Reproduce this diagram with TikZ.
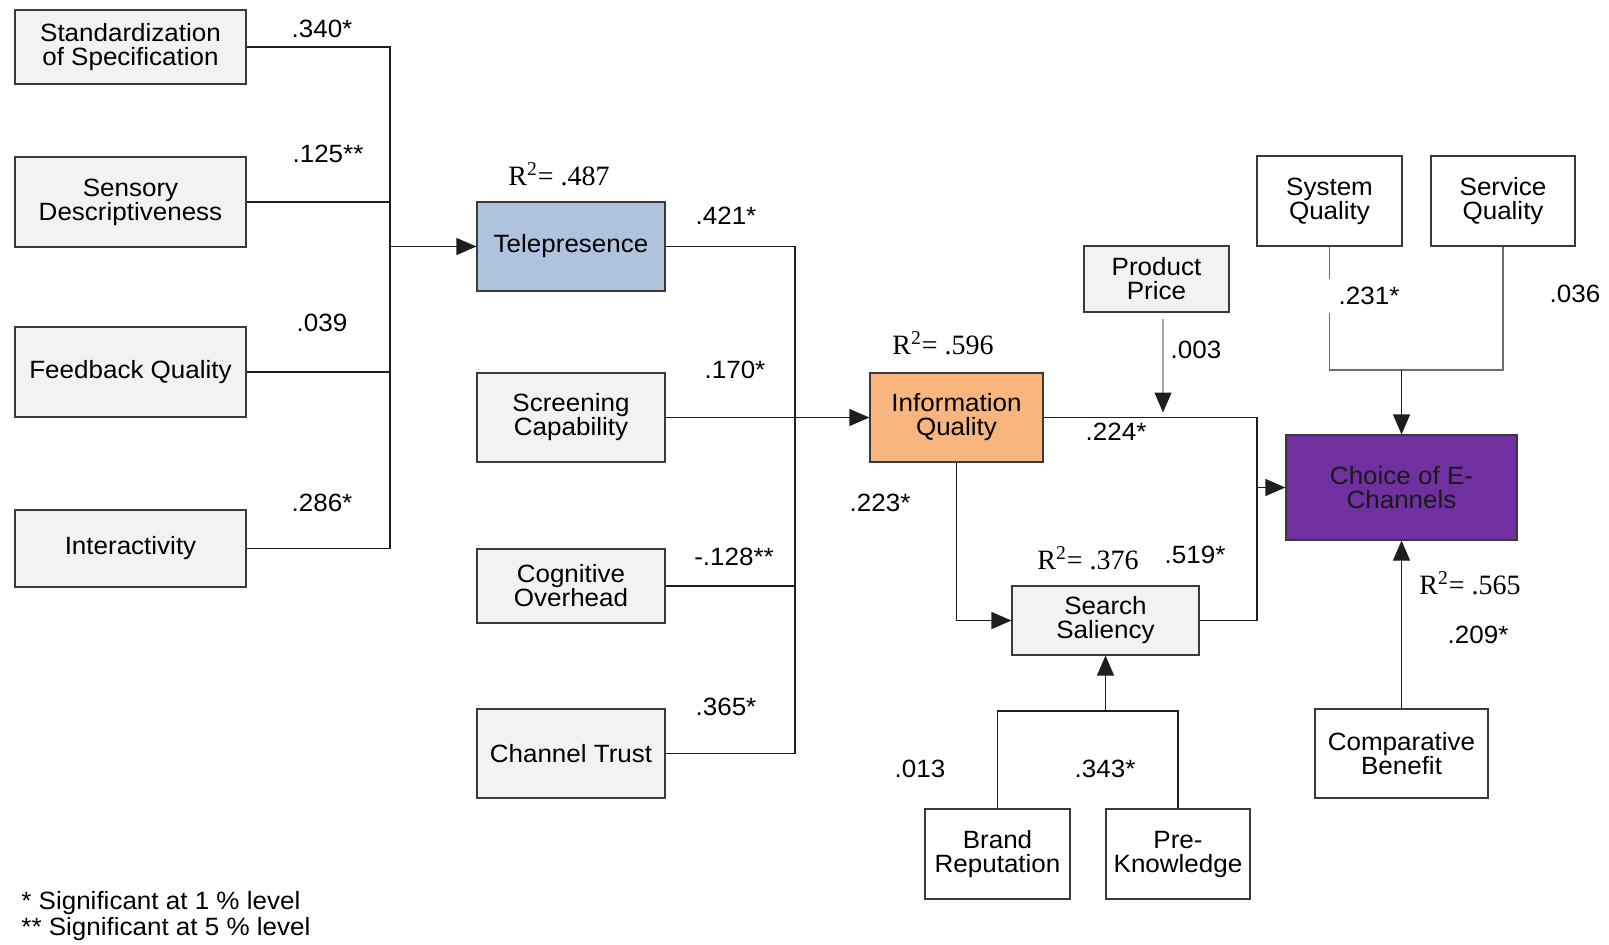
\documentclass[tikz,border=0pt]{standalone}
\usepackage{fontspec}
\setmainfont{Liberation Sans}[FakeStretch=1.04]
\newfontfamily\timesfont{Liberation Serif}
\usetikzlibrary{arrows.meta}

\definecolor{boxgray}{HTML}{F2F2F2}
\definecolor{edgegray}{HTML}{3A3A3A}
\definecolor{linecol}{HTML}{1E1E1E}
\definecolor{midline}{HTML}{6E6E6E}
\definecolor{lightline}{HTML}{A6A6A6}
\definecolor{telefill}{HTML}{B0C3DC}
\definecolor{infofill}{HTML}{F8B57E}
\definecolor{choicefill}{HTML}{7030A0}

\begin{document}
\begin{tikzpicture}[x=0.5pt,y=-0.5pt,
  font=\fontsize{12.5}{12}\selectfont,
  box/.style={draw=edgegray, line width=0.6pt, align=center, inner sep=0pt, fill=boxgray},
  wbox/.style={box, fill=white},
  conn/.style={draw=linecol, line width=0.6pt},
  arr/.style={conn, -{Triangle[length=10pt,width=8.5pt,color=linecol]}},
  coef/.style={inner sep=0pt},
  cover/.style={fill=white, inner xsep=5.5pt, inner ysep=0pt, minimum height=17pt},
  rsq/.style={inner sep=0pt, font=\timesfont\fontsize{14}{14}\selectfont}]
\useasboundingbox (0,0) rectangle (1609,944);

% antecedents of telepresence
\node[box, minimum width=115.5pt, minimum height=37pt] (std) at (130.5,47) {Standardization\\of Specification};
\node[box, minimum width=115.5pt, minimum height=45pt] (sen) at (130.5,202) {Sensory\\Descriptiveness};
\node[box, minimum width=115.5pt, minimum height=45pt] (fb) at (130.5,372) {Feedback Quality};
\node[box, minimum width=115.5pt, minimum height=38.5pt] (int) at (130.5,548.5) {Interactivity};

% second column
\node[box, fill=telefill, minimum width=94pt, minimum height=44.5pt] (tel) at (571,246.5) {Telepresence};
\node[box, minimum width=94pt, minimum height=44.5pt] (scr) at (571,417.5) {Screening\\Capability};
\node[box, minimum width=94pt, minimum height=37pt] (cog) at (571,586) {Cognitive\\Overhead};
\node[box, minimum width=94pt, minimum height=44.5pt] (ct) at (571,753.5) {Channel Trust};

% information quality and search saliency
\node[box, fill=infofill, minimum width=86.5pt, minimum height=44.5pt] (iq) at (956.5,417.5) {Information\\Quality};
\node[box, minimum width=72.5pt, minimum height=33pt] (pp) at (1156.5,279) {Product\\Price};
\node[box, minimum width=93.5pt, minimum height=34.5pt] (ss) at (1105.5,620.5) {Search\\Saliency};
\node[wbox, minimum width=72.5pt, minimum height=45pt] (br) at (997.5,854) {Brand\\Reputation};
\node[wbox, minimum width=72pt, minimum height=45pt] (pk) at (1178,854) {Pre-\\Knowledge};

% outcome and its direct predictors
\node[wbox, minimum width=72.5pt, minimum height=45pt] (sys) at (1329.5,201) {System\\Quality};
\node[wbox, minimum width=72pt, minimum height=45pt] (svc) at (1503,201) {Service\\Quality};
\node[box, fill=choicefill, text=black!90, minimum width=115.5pt, minimum height=52.5pt] (ch) at (1401.5,487.5) {Choice of E-\\Channels};
\node[wbox, minimum width=86.5pt, minimum height=44.5pt] (cb) at (1401.5,753.5) {Comparative\\Benefit};

% junction points
\coordinate (lb) at (390,548.5);
\coordinate (mb) at (795,753.5);
\coordinate (rb) at (1257,620.5);
\coordinate (tj) at (1401.5,370);
\coordinate (bj) at (1105.5,711);
\coordinate (ppa) at ([xshift=3.25pt,yshift=-3pt]pp.south);
\coordinate (ppb) at (ppa |- iq.east);

% paths into telepresence
\draw[conn] (std.east) -| (lb) -- (int.east);
\draw[conn] (fb.east) -- (fb.east -| lb);
\draw[arr] (sen.east) -| (lb |- tel.west) -- (tel.west);

% paths into information quality
\draw[conn] (tel.east) -| (mb) -- (ct.east);
\draw[conn] (cog.east) -- (cog.east -| mb);
\draw[arr] (scr.east) -- (iq.west);

% paths into search saliency and choice
\draw[arr] (iq.south) |- (ss.west);
\draw[conn] (iq.east) -| (rb) -- (ss.east);
\draw[arr] (rb |- ch.west) -- (ch.west);
\draw[arr, draw=lightline, shorten >=2.5pt] (ppa) -- (ppb);
\draw[conn, draw=midline] (sys.south) |- (tj);
\draw[conn, draw=midline] (svc.south) |- (tj);
\draw[arr] (tj) -- (ch.north);
\draw[arr] (cb.north) -- (ch.south);
\draw[conn] (br.north) |- (bj);
\draw[conn] (pk.north) |- (bj);
\draw[arr] (bj) -- (ss.south);

% path coefficients
\node[coef, cover] (c1) at (322,29) {.340*};
\node[coef] (c2) at (328,154) {.125**};
\node[coef] (c3) at (322,323) {.039};
\node[coef] (c4) at (322,503) {.286*};
\node[coef] (c5) at (726,216) {.421*};
\node[coef] (c6) at (735,370) {.170*};
\node[coef] (c7) at (734,557) {-.128**};
\node[coef] (c8) at (726,707) {.365*};
\node[coef] (c9) at (1196,350) {.003};
\node[coef] (c10) at (1116,432) {.224*};
\node[coef] (c11) at (880,503) {.223*};
\node[coef] (c12) at (1195,555) {.519*};
\node[coef, cover] (c13) at (1369,296) {.231*};
\node[coef] (c14) at (1575,294) {.036};
\node[coef] (c15) at (1478,635) {.209*};
\node[coef] (c16) at (920,769) {.013};
\node[coef] (c17) at (1105,769) {.343*};

% explained variance
\node[rsq] (r1) at (559,174) {R\textsuperscript{2}= .487};
\node[rsq] (r2) at (943,343) {R\textsuperscript{2}= .596};
\node[rsq] (r3) at (1088,558) {R\textsuperscript{2}= .376};
\node[rsq] (r4) at (1470,583) {R\textsuperscript{2}= .565};

% significance key
\node[coef, anchor=west] (n1) at (21,903) {* Significant at 1 \% level};
\node[coef, anchor=west] (n2) at (21,929) {** Significant at 5 \% level};
\end{tikzpicture}
\end{document}
